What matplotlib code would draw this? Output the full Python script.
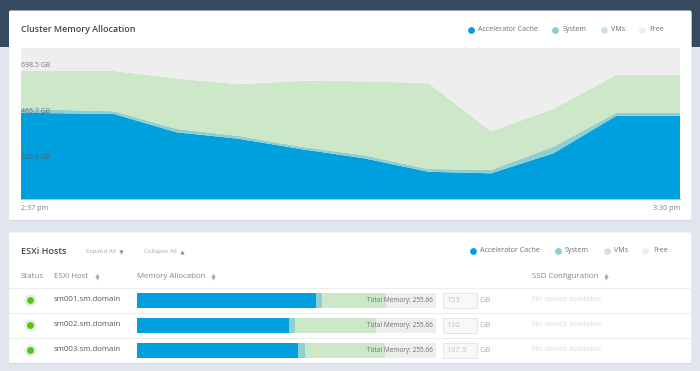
import matplotlib
matplotlib.use("Agg")
import matplotlib.pyplot as plt
from matplotlib.patches import FancyBboxPatch, Rectangle
from matplotlib.transforms import ScaledTranslation

plt.rcParams['font.family'] = ['Open Sans', 'DejaVu Sans']

# ---- data ----
minutes = [0, 7.5, 12.5, 17.5, 22.5, 27.6, 32.75, 37.8, 42.8, 47.9, 53]
cache = [437, 430, 338, 305, 253, 206, 138, 130, 231, 422, 422]
system = [19, 14, 17, 14, 12, 15, 14, 17, 33, 15, 15]
vms = [192, 204, 255, 262, 333, 375, 435, 196, 192, 192, 192]
capacity = 767
free = [capacity - a - b - c for a, b, c in zip(cache, system, vms)]
series_names = ['Accelerator Cache', 'System', 'VMs', 'Free']
y_ticks = [232.8, 465.7, 698.5]
y_tick_labels = ['232.8 GB', '465.7 GB', '698.5 GB']
time_labels = ['2:37 pm', '3:30 pm']

hosts = ['sm001.sm.domain', 'sm002.sm.domain', 'sm003.sm.domain']
host_total = 255.66
host_cache = [153, 130, 137.5]
host_system = [5.1, 5.7, 6.2]
host_vms = [54.6, 68.9, 68.3]
host_inputs = ['153', '130', '137.5']

COL = ['#009FDD', '#8FCFCF', '#CDE7C9', '#EEEEEF']
W, H = 700, 371

fig = plt.figure(figsize=(7, 3.71), dpi=100, facecolor='#E1E6EE')

def axes_px(x0, y0, x1, y1, z):
    a = fig.add_axes([x0 / W, 1 - y1 / H, (x1 - x0) / W, (y1 - y0) / H], zorder=z)
    return a

# chrome layer in pixel coordinates
bg = axes_px(0, 0, W, H, 0)
bg.set_xlim(0, W)
bg.set_ylim(H, 0)
bg.axis('off')
bg.add_patch(Rectangle((0, 0), W, 46.5, fc='#36495F', ec='none'))
for (x0, y0, x1, y1) in [(9, 10.5, 691.5, 220), (9, 232.5, 691.5, 363)]:
    bg.add_patch(FancyBboxPatch((x0, y0 + 0.8), x1 - x0, y1 - y0, boxstyle='round,pad=0,rounding_size=1.5',
                                fc='#C9CFD8', ec='none', alpha=0.8))
    bg.add_patch(FancyBboxPatch((x0, y0), x1 - x0, y1 - y0, boxstyle='round,pad=0,rounding_size=1.5',
                                fc='white', ec='none'))

GREY = '#7E8186'
def t(x, y, s, size=5.6, color=GREY, ha='left', **k):
    bg.text(x, y, s, fontsize=size, color=color, ha=ha, va='center', **k)

t(21, 29, 'Cluster Memory Allocation', size=6.4, color='#3F4650', fontweight='semibold')
t(21, 208.5, time_labels[0], size=5.2)
t(680, 208.5, time_labels[1], size=5.2, ha='right')

def legend(xs, y):
    for name, c, (xd, xt) in zip(series_names, COL, xs):
        bg.scatter([xd], [y], s=24, color=c, linewidths=0)
        t(xt, y + 0.3, name, size=5.1, color='#6A6F76')

legend([(470.5, 478), (555, 562.5), (604, 611), (642, 649.5)], 29.5)
legend([(472.5, 480.5), (557.5, 565), (606.5, 614), (644.5, 653)], 250.5)

# stacked area chart
ax = axes_px(21, 47.5, 680, 199, 1)
ax.stackplot(minutes, cache, system, vms, free, colors=COL, linewidth=0)
ax.set_xlim(minutes[0], minutes[-1])
ax.set_ylim(0, capacity)
ax.set_xticks([])
ax.set_yticks(y_ticks)
ax.set_yticklabels(y_tick_labels, fontsize=5.0, color='#55585C', alpha=0.75)
ax.tick_params(axis='y', direction='in', pad=0, length=0)
offset = ScaledTranslation(0, -4.5 / 100, fig.dpi_scale_trans)
for lab in ax.get_yticklabels():
    lab.set_ha('left')
    lab.set_va('center')
    lab.set_x(0.0)
    lab.set_transform(ax.get_yaxis_transform() + offset)
for s in ax.spines.values():
    s.set_visible(False)
ax.spines['bottom'].set_visible(True)
ax.spines['bottom'].set_color('#7FD0F0')
ax.spines['bottom'].set_linewidth(0.8)

# lower panel text
t(21, 251, 'ESXi Hosts', size=6.5, color='#3F4650', fontweight='semibold')
t(86.5, 251.5, 'Expand All', size=4.4, color='#A6A8AC')
bg.scatter([121], [251.8], marker='v', s=9, color='#8A8D92', linewidths=0)
t(144, 251.5, 'Collapse All', size=4.4, color='#A6A8AC')
bg.scatter([182], [252], marker='^', s=9, color='#8A8D92', linewidths=0)

header_y = 277
for x, s in [(21, 'Status'), (54.5, 'ESXi Host'), (137, 'Memory Allocation'), (532.5, 'SSD Configuration')]:
    t(x, header_y, s, size=5.65, color='#82868B')
for x in [96.5, 213, 605.5]:
    bg.scatter([x], [274.8], marker='^', s=9, color='#A9ACB0', linewidths=0)
    bg.scatter([x], [278.2], marker='v', s=9, color='#A9ACB0', linewidths=0)

for y in [287.5, 312.5, 337.5]:
    bg.plot([9, 691.5], [y, y], color='#EBEDF0', lw=0.8)

rows_px = [300, 325, 350]
for y, host, val in zip(rows_px, hosts, host_inputs):
    bg.scatter([30], [y - 0.2], s=75, color='#E9EAEB', linewidths=0)
    bg.scatter([30], [y - 0.2], s=24, color='#4FC80A', linewidths=0)
    t(54, y - 0.5, host, size=5.65, color='#55595F')
    bg.add_patch(Rectangle((442.5, y - 7.5), 34.5, 15, fc='#F8F8F8', ec='#E6E6E6', lw=0.7))
    t(446.5, y + 0.3, val, size=5.8, color='#C2C4C7')
    t(480, y + 0.5, 'GB', size=6.0, color='#B4B6B9')
    t(531.5, y - 0.3, 'No device available', size=5.6, color='#DADBDD')

# per-host stacked bars
bx = axes_px(136.5, 287.5, 436, 362.5, 2)
bx.patch.set_alpha(0)
pos = [0, 1, 2]
left = [0, 0, 0]
host_free = [host_total - a - b - c for a, b, c in zip(host_cache, host_system, host_vms)]
for vals, c in zip([host_cache, host_system, host_vms, host_free], COL):
    bx.barh(pos, vals, left=left, height=0.6, color=c, linewidth=0)
    left = [l + v for l, v in zip(left, vals)]
bx.set_xlim(0, host_total)
bx.set_ylim(2.5, -0.5)
bx.axis('off')
for p in pos:
    bx.text(host_total - 2.8, p + 0.02, f'Total Memory: {host_total}', fontsize=4.7,
            color='#6E7175', ha='right', va='center')

fig.savefig('out.png', dpi=100, facecolor=fig.get_facecolor())
